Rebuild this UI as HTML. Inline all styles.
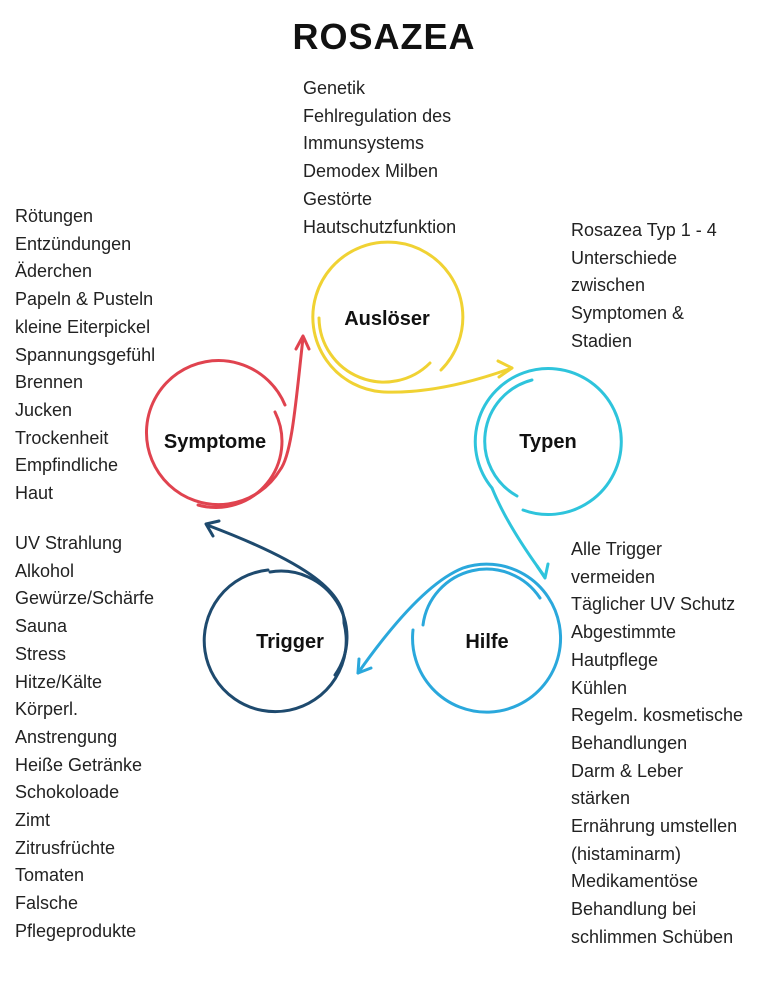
<!DOCTYPE html>
<html><head><meta charset="utf-8"><style>
body{margin:0;width:768px;height:981px;background:#fff;position:relative;overflow:hidden;font-family:"Liberation Sans",sans-serif;color:#222}
.t{position:absolute;font-size:18px;line-height:27.7px;white-space:nowrap}
h1{position:absolute;top:16px;left:0;width:768px;text-align:center;margin:0;font-size:36px;font-weight:bold;color:#111;letter-spacing:1px}
svg{position:absolute;left:0;top:0}
</style></head><body>
<h1>ROSAZEA</h1>
<div class="t" style="left:303px;top:75px">Genetik<br>Fehlregulation des<br>Immunsystems<br>Demodex Milben<br>Gestörte<br>Hautschutzfunktion</div>
<div class="t" style="left:15px;top:203px">Rötungen<br>Entzündungen<br>Äderchen<br>Papeln &amp; Pusteln<br>kleine Eiterpickel<br>Spannungsgefühl<br>Brennen<br>Jucken<br>Trockenheit<br>Empfindliche<br>Haut</div>
<div class="t" style="left:571px;top:217px">Rosazea Typ 1 - 4<br>Unterschiede<br>zwischen<br>Symptomen &amp;<br>Stadien</div>
<div class="t" style="left:15px;top:530px">UV Strahlung<br>Alkohol<br>Gewürze/Schärfe<br>Sauna<br>Stress<br>Hitze/Kälte<br>Körperl.<br>Anstrengung<br>Heiße Getränke<br>Schokoloade<br>Zimt<br>Zitrusfrüchte<br>Tomaten<br>Falsche<br>Pflegeprodukte</div>
<div class="t" style="left:571px;top:536px">Alle Trigger<br>vermeiden<br>Täglicher UV Schutz<br>Abgestimmte<br>Hautpflege<br>Kühlen<br>Regelm. kosmetische<br>Behandlungen<br>Darm &amp; Leber<br>stärken<br>Ernährung umstellen<br>(histaminarm)<br>Medikamentöse<br>Behandlung bei<br>schlimmen Schüben</div>
<svg width="768" height="981" fill="none" stroke-width="3" stroke-linecap="round" stroke-linejoin="round">
<g stroke="#f0d233">
<path d="M441 370 A75 75 0 1 0 384 392 Q440 394 512 368"/>
<path d="M319 318 A65 65 0 0 0 430 363"/>
<path d="M498 361 L512 368 L499 377"/>
</g>
<g stroke="#e0434f">
<path d="M285 405 A72 72 0 1 0 280 470 C292 455 296 400 303 338"/>
<path d="M275 412 A66 66 0 0 1 198 505"/>
<path d="M296 349 L303 336 L309 349"/>
</g>
<g stroke="#2ec4dc">
<path d="M523 510 A73 73 0 1 0 492 488 C505 520 525 550 545 577"/>
<path d="M532 380 A63 63 0 0 0 517 496"/>
<path d="M537 566 L545 578 L548 564"/>
</g>
<g stroke="#2aa8dc">
<path d="M413 630 A74 74 0 1 0 463 568 Q420 585 358 673"/>
<path d="M540 598 A64 64 0 0 0 423 625"/>
<path d="M359 659 L358 673 L371 668"/>
</g>
<g stroke="#1e4a6e">
<path d="M268 570 A71 71 0 1 0 344 623 C345 590 300 560 207 525"/>
<path d="M270 572 A66 66 0 0 1 335 675"/>
<path d="M219 521 L206 524 L213 536"/>
</g>
<g fill="#111" stroke="none" font-family="Liberation Sans, sans-serif" font-weight="bold" font-size="20" text-anchor="middle">
<text x="387" y="325">Auslöser</text>
<text x="215" y="448">Symptome</text>
<text x="548" y="448">Typen</text>
<text x="290" y="648">Trigger</text>
<text x="487" y="648">Hilfe</text>
</g>
</svg>
</body></html>
